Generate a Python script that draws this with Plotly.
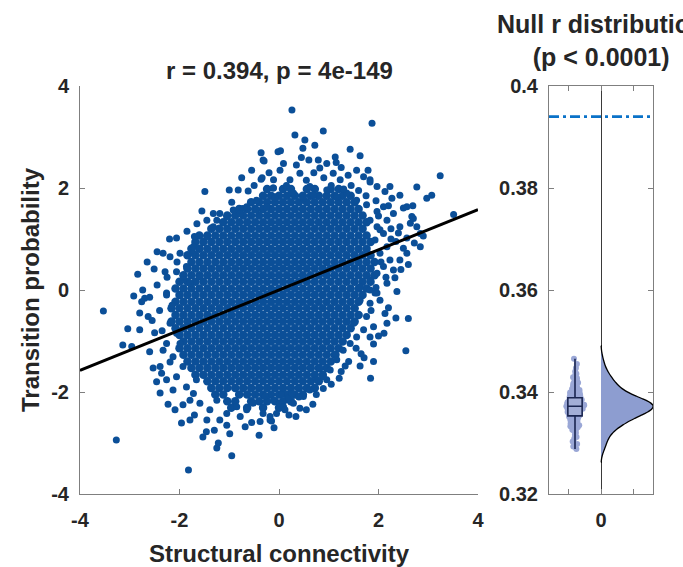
import plotly.graph_objects as go

# ---------------- data ----------------
core_rows = [
    (1.98, [-0.24,0.08,0.24,0.56,0.72,1.04,1.20]),
    (1.85, [-0.32,-0.16,0.00,0.16,0.32,0.48,0.64,0.80,0.96,1.12,1.28,1.44]),
    (1.72, [-0.56,-0.40,-0.24,-0.08,0.08,0.24,0.40,0.56,0.72,0.88,1.04,1.20,1.36,1.52]),
    (1.59, [-0.80,-0.64,-0.48,-0.32,-0.16,0.00,0.16,0.32,0.48,0.64,0.80,0.96,1.12,1.28,1.44,1.60]),
    (1.46, [-1.04,-0.88,-0.72,-0.56,-0.40,-0.24,-0.08,0.08,0.24,0.40,0.56,0.72,0.88,1.04,1.20,1.36,1.52,1.68]),
    (1.33, [-1.12,-0.96,-0.80,-0.64,-0.48,-0.32,-0.16,0.00,0.16,0.32,0.48,0.64,0.80,0.96,1.12,1.28,1.44,1.60,1.76]),
    (1.20, [-1.36,-1.20,-1.04,-0.88,-0.72,-0.56,-0.40,-0.24,-0.08,0.08,0.24,0.40,0.56,0.72,0.88,1.04,1.20,1.36,1.52,1.68]),
    (1.07, [-1.60,-1.44,-1.28,-1.12,-0.96,-0.80,-0.64,-0.48,-0.32,-0.16,0.00,0.16,0.32,0.48,0.64,0.80,0.96,1.12,1.28,1.44,1.60,1.76]),
    (0.94, [-1.68,-1.52,-1.36,-1.20,-1.04,-0.88,-0.72,-0.56,-0.40,-0.24,-0.08,0.08,0.24,0.40,0.56,0.72,0.88,1.04,1.20,1.36,1.52,1.68,1.84]),
    (0.81, [-1.76,-1.60,-1.44,-1.28,-1.12,-0.96,-0.80,-0.64,-0.48,-0.32,-0.16,0.00,0.16,0.32,0.48,0.64,0.80,0.96,1.12,1.28,1.44,1.60,1.76]),
    (0.68, [-1.84,-1.68,-1.52,-1.36,-1.20,-1.04,-0.88,-0.72,-0.56,-0.40,-0.24,-0.08,0.08,0.24,0.40,0.56,0.72,0.88,1.04,1.20,1.36,1.52,1.68,1.84]),
    (0.55, [-1.76,-1.60,-1.44,-1.28,-1.12,-0.96,-0.80,-0.64,-0.48,-0.32,-0.16,0.00,0.16,0.32,0.48,0.64,0.80,0.96,1.12,1.28,1.44,1.60,1.76,1.92]),
    (0.42, [-1.84,-1.68,-1.52,-1.36,-1.20,-1.04,-0.88,-0.72,-0.56,-0.40,-0.24,-0.08,0.08,0.24,0.40,0.56,0.72,0.88,1.04,1.20,1.36,1.52,1.68,1.84]),
    (0.29, [-1.92,-1.76,-1.60,-1.44,-1.28,-1.12,-0.96,-0.80,-0.64,-0.48,-0.32,-0.16,0.00,0.16,0.32,0.48,0.64,0.80,0.96,1.12,1.28,1.44,1.60,1.76,1.92]),
    (0.16, [-2.00,-1.84,-1.68,-1.52,-1.36,-1.20,-1.04,-0.88,-0.72,-0.56,-0.40,-0.24,-0.08,0.08,0.24,0.40,0.56,0.72,0.88,1.04,1.20,1.36,1.52,1.68,1.84]),
    (0.03, [-2.08,-1.92,-1.76,-1.60,-1.44,-1.28,-1.12,-0.96,-0.80,-0.64,-0.48,-0.32,-0.16,0.00,0.16,0.32,0.48,0.64,0.80,0.96,1.12,1.28,1.44,1.60,1.76]),
    (-0.10, [-2.00,-1.84,-1.68,-1.52,-1.36,-1.20,-1.04,-0.88,-0.72,-0.56,-0.40,-0.24,-0.08,0.08,0.24,0.40,0.56,0.72,0.88,1.04,1.20,1.36,1.52,1.68]),
    (-0.23, [-2.08,-1.92,-1.76,-1.60,-1.44,-1.28,-1.12,-0.96,-0.80,-0.64,-0.48,-0.32,-0.16,0.00,0.16,0.32,0.48,0.64,0.80,0.96,1.12,1.28,1.44,1.60]),
    (-0.36, [-2.16,-2.00,-1.84,-1.68,-1.52,-1.36,-1.20,-1.04,-0.88,-0.72,-0.56,-0.40,-0.24,-0.08,0.08,0.24,0.40,0.56,0.72,0.88,1.04,1.20,1.36,1.52]),
    (-0.49, [-2.08,-1.92,-1.76,-1.60,-1.44,-1.28,-1.12,-0.96,-0.80,-0.64,-0.48,-0.32,-0.16,0.00,0.16,0.32,0.48,0.64,0.80,0.96,1.12,1.28,1.44,1.60]),
    (-0.62, [-2.16,-2.00,-1.84,-1.68,-1.52,-1.36,-1.20,-1.04,-0.88,-0.72,-0.56,-0.40,-0.24,-0.08,0.08,0.24,0.40,0.56,0.72,0.88,1.04,1.20,1.36,1.52]),
    (-0.75, [-2.08,-1.92,-1.76,-1.60,-1.44,-1.28,-1.12,-0.96,-0.80,-0.64,-0.48,-0.32,-0.16,0.00,0.16,0.32,0.48,0.64,0.80,0.96,1.12,1.28,1.44]),
    (-0.88, [-2.00,-1.84,-1.68,-1.52,-1.36,-1.20,-1.04,-0.88,-0.72,-0.56,-0.40,-0.24,-0.08,0.08,0.24,0.40,0.56,0.72,0.88,1.04,1.20,1.36]),
    (-1.01, [-1.92,-1.76,-1.60,-1.44,-1.28,-1.12,-0.96,-0.80,-0.64,-0.48,-0.32,-0.16,0.00,0.16,0.32,0.48,0.64,0.80,0.96,1.12,1.28]),
    (-1.14, [-2.00,-1.84,-1.68,-1.52,-1.36,-1.20,-1.04,-0.88,-0.72,-0.56,-0.40,-0.24,-0.08,0.08,0.24,0.40,0.56,0.72,0.88,1.04,1.20]),
    (-1.27, [-1.92,-1.76,-1.60,-1.44,-1.28,-1.12,-0.96,-0.80,-0.64,-0.48,-0.32,-0.16,0.00,0.16,0.32,0.48,0.64,0.80,0.96,1.12]),
    (-1.40, [-1.84,-1.68,-1.52,-1.36,-1.20,-1.04,-0.88,-0.72,-0.56,-0.40,-0.24,-0.08,0.08,0.24,0.40,0.56,0.72,0.88,1.04]),
    (-1.53, [-1.76,-1.60,-1.44,-1.28,-1.12,-0.96,-0.80,-0.64,-0.48,-0.32,-0.16,0.00,0.16,0.32,0.48,0.64,0.80,0.96]),
    (-1.66, [-1.68,-1.52,-1.36,-1.20,-1.04,-0.88,-0.72,-0.56,-0.40,-0.24,-0.08,0.08,0.24,0.40,0.56,0.72,0.88]),
    (-1.79, [-1.44,-1.28,-1.12,-0.96,-0.80,-0.64,-0.48,-0.32,-0.16,0.00,0.16,0.32,0.48,0.64,0.80]),
    (-1.92, [-1.36,-1.20,-1.04,-0.88,-0.72,-0.56,-0.40,-0.24,-0.08,0.08,0.24,0.40,0.56,0.72]),
    (-2.05, [-1.28,-1.12,-0.80,-0.64,-0.48,-0.32,-0.16,0.00,0.16,0.32,0.48]),
    (-2.18, [-1.04,-0.88,-0.56,-0.40,-0.24,-0.08,0.08,0.24]),
    (-2.31, [-0.96,-0.64,-0.32,0.00]),
]

outer_points = [
    (-1.49,1.93),(-2.84,0.31),(-2.51,0.41),(-2.29,0.36),(-2.06,1.02),(-2.33,0.72),(-0.36,2.69),(-0.30,2.53),
    (-0.36,2.17),(-0.02,2.71),(-1.00,1.96),(-0.82,1.96),(-0.62,1.94),(-0.95,1.72),(-0.73,1.60),(-0.45,1.76),
    (-0.12,2.00),(-0.08,1.83),(-2.92,-0.12),(-2.74,0.00),(-2.60,-0.14),
    (-2.06,0.36),(-1.86,0.46),(-1.72,0.72),(-1.59,0.82),(-1.45,1.05),(-1.32,1.24),(-1.25,1.37),(-1.05,1.44),
    (-0.78,1.50),(-0.65,1.63),(-0.45,1.57),(-0.25,1.63),(-1.32,1.50),(-1.45,1.37),(-1.72,0.85),(-1.99,0.72),
    (-2.19,0.65),(-1.93,0.20),(-2.26,-0.06),(-1.99,-0.10),(-1.79,0.13),(-1.59,0.26),(-0.92,1.57),(-1.19,1.50),
    (0.26,3.53),(1.87,3.27),(0.32,3.04),(0.89,3.12),(0.52,2.94),(0.72,2.84),(0.48,2.78),(1.43,2.76),(1.63,2.63),
    (1.13,2.61),(3.24,2.24),(2.77,2.02),(3.07,1.86),(2.97,1.80),(3.51,1.48),(2.69,1.65),(2.50,1.61),(2.67,1.44),
    (2.90,1.06),(2.84,0.85),(2.72,0.92),(2.40,1.12),(2.50,0.82),(2.57,1.02),(2.33,0.24),(2.37,-0.03),(1.79,2.35),
    (1.83,2.16),(2.23,2.03),(0.03,2.73),(0.09,2.48),(-0.11,2.00),(-0.08,1.80),(-0.32,2.55),(-0.34,2.20),
    (0.79,2.55),(0.96,2.48),(0.82,2.39),(1.09,2.29),(1.23,2.16),(1.39,2.25),(1.56,2.35),(1.70,2.22),(1.83,2.12),
    (1.97,2.03),(2.13,1.93),(2.27,1.80),(2.43,1.86),(2.57,1.63),(2.30,1.50),(2.17,1.37),(2.43,1.24),(2.03,1.18),
    (2.64,1.31),(2.77,1.24),(2.84,1.11),
    (0.02,2.35),(0.22,2.16),(0.42,2.29),(0.62,2.03),(-0.11,2.16),(0.29,1.90),(0.49,1.80),(0.69,1.86),(0.96,1.96),
    (1.16,1.83),(1.36,1.90),(1.56,1.76),(1.76,1.67),(1.97,1.54),(2.10,1.63),
    (1.83,1.37),(1.97,1.24),(2.10,1.11),(1.93,0.98),(2.17,0.85),(2.03,0.72),(2.23,0.59),(2.10,0.46),(2.30,0.39),
    (2.43,0.59),(2.57,0.72),(1.97,0.33),(2.17,0.13),(1.83,0.20),(1.63,0.06),(1.93,-0.06),
    (-3.53,-0.41),(-3.27,-2.94),(-1.82,-3.53),(-0.95,-3.25),(-1.25,-3.10),(-1.22,-3.00),(-1.53,-2.88),(-1.46,-2.78),
    (-1.96,-2.61),(-1.79,-2.55),(-2.23,-2.24),(-2.09,-2.35),(-1.93,-2.25),(-3.04,-0.76),(-2.80,-0.78),(-3.14,-1.08),
    (-2.96,-1.11),(-2.70,-0.16),(-2.26,-0.10),(-2.76,-0.23),(-2.63,-0.52),(-2.60,-1.21),(-2.53,-1.53),(-2.46,-1.80),
    (-2.39,-2.02),(-2.50,-0.84),(-2.33,-1.18),(-2.19,-1.41),(-2.36,-1.63),(-0.99,-2.82),(-0.78,-2.48),(-0.68,-2.68),
    (-0.38,-2.58),(-0.18,-2.55),(-0.28,-2.09),
    (-2.19,-0.65),(-2.06,-0.85),(-1.99,-1.05),(-2.13,-1.31),(-1.93,-1.50),(-2.06,-1.70),(-1.86,-1.90),(-1.72,-2.03),
    (-1.66,-1.76),(-1.59,-2.22),(-1.39,-2.35),(-1.25,-2.16),(-1.05,-2.42),(-1.19,-2.55),(-0.85,-2.29),(-0.65,-2.35),
    (-0.52,-2.22),(-0.32,-2.29),(-0.11,-2.16),(-2.26,-1.05),(-2.39,-1.50),(-2.26,-1.76),(-2.13,-1.96),(-1.79,-2.16),
    (2.60,-0.56),(2.55,-1.19),(1.84,-1.73),(1.63,-1.49),(1.71,-1.33),(1.55,-1.14),(2.13,-0.46),(2.17,-0.65),
    (2.11,-0.85),(1.90,-1.06),(1.83,-0.92),(1.21,-1.73),(1.33,-1.49),(1.15,-1.27),(0.68,-2.24),(0.42,-2.32),
    (0.34,-2.48),(-0.15,-2.57),(-0.28,-2.08),(-0.32,-2.42),(0.89,-1.93),(0.96,-1.76),(0.82,-1.54),(0.19,-2.12),
    (0.26,-2.03),(0.02,-2.22),(0.09,-2.29),
    (1.63,-0.20),(1.83,-0.26),(1.97,-0.06),(1.76,-0.52),(1.90,-0.72),(1.70,-0.78),(1.56,-0.92),(1.43,-1.05),
    (1.29,-1.18),(1.16,-1.37),(1.03,-1.57),(0.89,-1.70),(0.76,-1.76),(0.62,-1.96),(0.49,-2.09),(0.29,-2.22),
    (0.12,-2.35),(-0.05,-2.42),(-0.18,-2.48),(1.50,-0.65),(2.03,-0.20),(1.83,0.00),
    (-0.50,2.05),(-0.20,2.30),(0.15,2.05),(0.35,2.45),(0.55,2.15),(0.70,2.30),(0.90,2.20),(1.05,2.05),(1.25,2.40),
    (1.45,2.05),(1.60,1.95),(1.15,2.50),(0.45,2.60),(-0.55,2.35),(-0.75,2.20),(0.60,2.55),(1.30,1.98),(1.75,1.85),
    (1.95,1.75),(2.20,1.65),
    (2.00,1.45),(2.25,1.20),(2.35,0.95),(2.05,0.55),(2.45,0.40),(2.15,0.25),(2.60,0.50),(1.95,0.05),(2.20,-0.35),
    (1.85,-0.40),(2.35,-0.55),(2.00,-0.90),(1.65,-1.25),(1.90,-1.40),(1.40,-1.40),(1.25,-1.60),(2.25,1.00),(2.70,1.40),
    (-2.25,0.25),(-2.45,0.10),(-2.15,-0.30),(-2.40,-0.40),(-2.35,-0.80),(-2.55,-0.60),(-2.20,1.00),(-1.85,1.15),
    (-1.65,1.30),(-1.55,1.55),(-2.05,0.55),(-2.45,0.75),(-2.65,0.55),(-2.80,-0.45),(-1.70,1.05),
    (-1.45,-2.55),(-1.05,-2.65),(-0.55,-2.60),(-0.10,-2.70),(0.20,-2.45),(0.55,-2.35),(-1.70,-2.45),(-0.80,-2.05),
    (0.05,-2.05),(0.40,-2.10),(-1.30,-2.75),(-0.40,-2.85),(0.75,-2.05),(1.05,-1.85),
]

r_value = 0.394
intercept = 0.0
fit_x = [-4.0, 4.0]

null_r = [
    0.3288, 0.3293, 0.3298, 0.3303, 0.3309, 0.3312, 0.3316, 0.3320, 0.3324, 0.3327, 0.3330,
    0.3333, 0.3335, 0.3337, 0.3339, 0.3341, 0.3343, 0.3345, 0.3346, 0.3348, 0.3349,
    0.3350, 0.3351, 0.3352, 0.3353, 0.3354, 0.3355, 0.3356, 0.3357, 0.3358, 0.3359,
    0.3360, 0.3361, 0.3362, 0.3363, 0.3364, 0.3365, 0.3366, 0.3366, 0.3367, 0.3368,
    0.3369, 0.3370, 0.3370, 0.3371, 0.3371, 0.3372, 0.3372, 0.3373, 0.3373, 0.3374,
    0.3374, 0.3375, 0.3376, 0.3376, 0.3377, 0.3378, 0.3378, 0.3379, 0.3380, 0.3381,
    0.3382, 0.3383, 0.3384, 0.3385, 0.3386, 0.3387, 0.3388, 0.3389, 0.3390, 0.3391,
    0.3393, 0.3394, 0.3396, 0.3398, 0.3400, 0.3402, 0.3404, 0.3406, 0.3409, 0.3412,
    0.3415, 0.3418, 0.3421, 0.3425, 0.3429, 0.3434, 0.3440, 0.3447, 0.3455, 0.3465,
    0.3358, 0.3362, 0.3368, 0.3374, 0.3380, 0.3386, 0.3344, 0.3392, 0.3331, 0.3408,
    0.3365, 0.3369, 0.3371, 0.3373, 0.3375, 0.3377, 0.3379, 0.3381, 0.3383, 0.3360,
    0.3356, 0.3352, 0.3347, 0.3342, 0.3338, 0.3395, 0.3399, 0.3403, 0.3410, 0.3420,
    0.3367, 0.3373, 0.3377, 0.3385, 0.3361, 0.3334, 0.3326, 0.3416, 0.3427, 0.3436,
]
observed_r = 0.394

# ---------------- build ----------------
sc_x, sc_y, sc_size = [], [], []
for yv, xs in core_rows:
    for xv in xs:
        sc_x.append(xv)
        sc_y.append(yv)
        sc_size.append(8.5)
for xv, yv in outer_points:
    sc_x.append(xv)
    sc_y.append(yv)
    sc_size.append(7)

fit_y = [intercept + r_value * v for v in fit_x]

FONT = "Liberation Sans"
TXT = "#262626"
AX = "#7f7f7f"

fig = go.Figure()

fig.add_trace(go.Scatter(
    x=sc_x, y=sc_y, mode="markers",
    marker=dict(color="#0b4f98", size=sc_size, opacity=1, line=dict(width=0)),
    xaxis="x", yaxis="y", showlegend=False, hoverinfo="skip"))

fig.add_trace(go.Scatter(
    x=fit_x, y=fit_y, mode="lines",
    line=dict(color="black", width=3),
    xaxis="x", yaxis="y", showlegend=False))

fig.add_trace(go.Box(
    x=[-0.4] * len(null_r), y=null_r, xaxis="x2", yaxis="y2",
    boxpoints="all", jitter=1, pointpos=0, width=0.3,
    marker=dict(color="#9aa7d6", size=6, opacity=1, line=dict(width=0)),
    line=dict(color="rgba(0,0,0,0)"), fillcolor="rgba(0,0,0,0)",
    whiskerwidth=0, showlegend=False))

fig.add_trace(go.Box(
    x=[-0.4] * len(null_r), y=null_r, xaxis="x2", yaxis="y2",
    boxpoints=False, width=0.22,
    line=dict(color="#1a2550", width=1.6), fillcolor="#a3aed6",
    whiskerwidth=0, showlegend=False))

fig.add_trace(go.Violin(
    x=[0] * len(null_r), y=null_r, xaxis="x2", yaxis="y2",
    side="positive", width=1.6, points=False, bandwidth=0.0013,
    line=dict(color="black", width=1.3), fillcolor="#8d9dd0",
    box_visible=False, meanline_visible=False, showlegend=False))

fig.add_trace(go.Scatter(
    x=[-0.8, 0.8], y=[observed_r, observed_r], mode="lines",
    line=dict(color="#0a72c8", width=2.6, dash="10px,4px,3px,4px"),
    xaxis="x2", yaxis="y2", showlegend=False))

tickfont = dict(family=FONT, size=20, color=TXT, weight="bold")

fig.update_layout(
    width=683, height=567, autosize=False,
    margin=dict(l=0, r=0, t=0, b=0, pad=0),
    paper_bgcolor="white", plot_bgcolor="white",
    boxmode="overlay", violinmode="overlay",
    xaxis=dict(domain=[80/683, 478/683], range=[-4, 4], tickvals=[-4, -2, 0, 2, 4],
               ticktext=["-4", "-2", "0", "2", "4"], automargin=False,
               showline=True, linecolor=AX, linewidth=1, ticks="inside", ticklen=5,
               tickcolor=AX, showgrid=False, zeroline=False, tickfont=tickfont,
               anchor="y", ticklabelstandoff=8),
    yaxis=dict(domain=[1-494/567, 1-86/567], range=[-4, 4], tickvals=[-4, -2, 0, 2, 4],
               ticktext=["-4", "-2", "0", "2", "4"], automargin=False,
               showline=True, linecolor=AX, linewidth=1, ticks="inside", ticklen=5,
               tickcolor=AX, showgrid=False, zeroline=False, tickfont=tickfont,
               anchor="x", ticklabelstandoff=6),
    xaxis2=dict(domain=[549/683, 653/683], range=[-0.8, 0.8], tickvals=[-0.5, 0, 0.5],
                ticktext=["", "0", ""], automargin=False,
                showline=True, linecolor=AX, linewidth=1, mirror="ticks", ticks="inside",
                ticklen=5, tickcolor=AX, showgrid=False,
                zeroline=True, zerolinecolor="#3a3a3a", zerolinewidth=1.2,
                tickfont=tickfont, anchor="y2", ticklabelstandoff=8),
    yaxis2=dict(domain=[1-494/567, 1-86/567], range=[0.32, 0.4],
                tickvals=[0.32, 0.34, 0.36, 0.38, 0.4],
                ticktext=["0.32", "0.34", "0.36", "0.38", "0.4"], automargin=False,
                showline=True, linecolor=AX, linewidth=1, mirror="ticks", ticks="inside",
                ticklen=5, tickcolor=AX, showgrid=False, zeroline=False,
                tickfont=tickfont, anchor="x2", ticklabelstandoff=6),
    annotations=[
        dict(text="r = 0.394, p = 4e-149", x=(80+478)/2/683, y=1-70/567, xref="paper", yref="paper",
             showarrow=False, xanchor="center", yanchor="middle",
             font=dict(family=FONT, size=24, color=TXT, weight="bold")),
        dict(text="Null r distribution<br>(p < 0.0001)", x=601/683, y=1-40/567, xref="paper", yref="paper",
             showarrow=False, xanchor="center", yanchor="middle",
             font=dict(family=FONT, size=25, color=TXT, weight="bold")),
        dict(text="Structural connectivity", x=279/683, y=1-553/567, xref="paper", yref="paper",
             showarrow=False, xanchor="center", yanchor="middle",
             font=dict(family=FONT, size=24, color=TXT, weight="bold")),
        dict(text="Transition probability", x=30/683, y=1-290/567, xref="paper", yref="paper",
             showarrow=False, xanchor="center", yanchor="middle", textangle=-90,
             font=dict(family=FONT, size=24, color=TXT, weight="bold")),
    ],
)

fig.write_html("out.html")
